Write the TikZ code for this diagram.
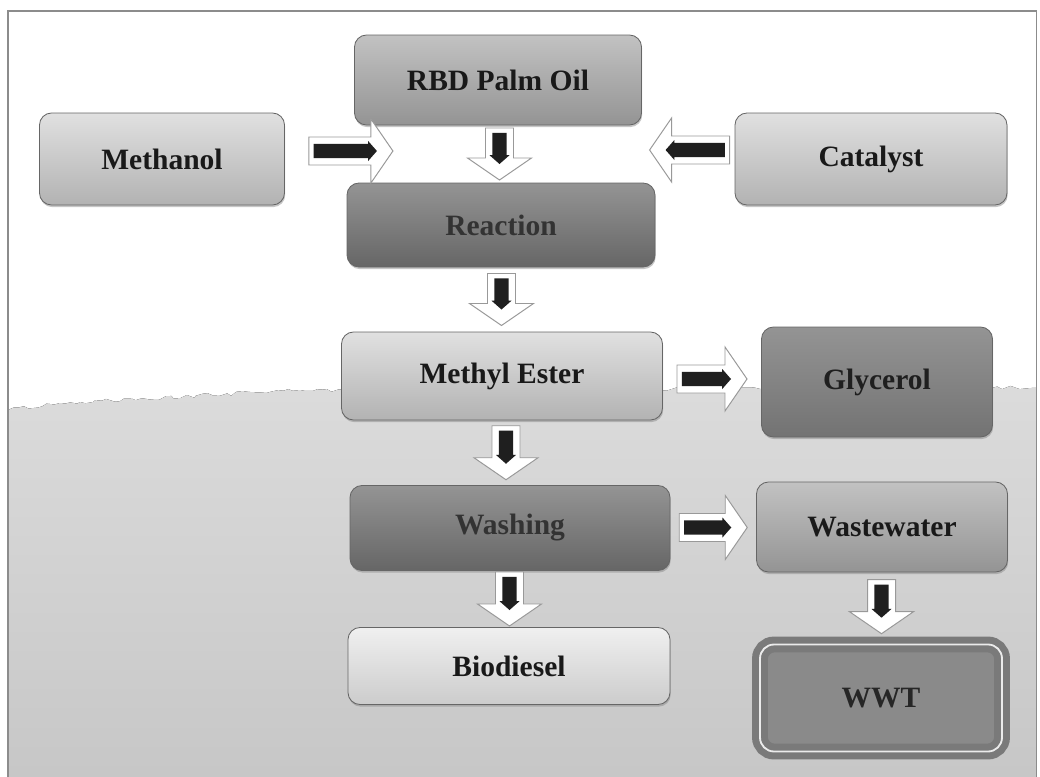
\documentclass[tikz,border=0pt]{standalone}
\usepackage{fontspec}
\setmainfont{Liberation Serif}
\usetikzlibrary{calc, shadows, decorations.pathmorphing}

% block arrow between two process boxes, drawn pointing right
\tikzset{
    pics/flowarrow/.style={code={
        \filldraw[draw=black!40, fill=white, line width=0.7pt]
            ({-#1/2},-0.35) -- ({#1/2-0.55},-0.35) -- ({#1/2-0.55},-0.8) -- ({#1/2},0)
            -- ({#1/2-0.55},0.8) -- ({#1/2-0.55},0.35) -- ({-#1/2},0.35) -- cycle;
        \fill[black!88]
            ({-#1/2+0.12},-0.18) -- ({#1/2-0.62},-0.18) -- ({#1/2-0.62},-0.25) -- ({#1/2-0.4},0)
            -- ({#1/2-0.62},0.25) -- ({#1/2-0.62},0.18) -- ({-#1/2+0.12},0.18) -- cycle;
    }}
}

\begin{document}
\begin{tikzpicture}[
    box/.style={rectangle, rounded corners=0.3cm, draw=black!60, line width=0.6pt, align=center, text=black!90, font=\fontsize{21}{24}\selectfont\bfseries, drop shadow={opacity=0.45, shadow xshift=0.5pt, shadow yshift=-1.5pt}},
    palebox/.style={box, top color=black!6, bottom color=black!20},
    lightbox/.style={box, top color=black!12, bottom color=black!30},
    midbox/.style={box, top color=black!24, bottom color=black!42},
    darkbox/.style={box, top color=black!42, bottom color=black!60, text=black!80},
    wwtbox/.style={rectangle, rounded corners=0.35cm, fill=black!46, draw=black!52, line width=5pt, double=white!92!black, double distance=1.3pt, text=black!85, font=\fontsize{21}{24}\selectfont\bfseries}
]
    \useasboundingbox (0,0) rectangle (26,-19.425);

    % Background and frame
    \fill[top color=black!14, bottom color=black!22, decoration={random steps, segment length=4pt, amplitude=1.5pt}]
        (0.2,-19.425) -- (0.2,-10.25) decorate {-- (2,-10.05) -- (7.5,-9.75) -- (25.92,-9.7)} -- (25.92,-19.425) -- cycle;
    \draw[black!45, line width=0.8pt] (0.2,-19.425) -- (0.2,-0.275) -- (25.92,-0.275) -- (25.92,-19.425);

    % Feed streams
    \node[midbox, minimum width=7.175cm, minimum height=2.25cm] (RBD) at (12.45,-2.0) {RBD Palm Oil};
    \node[lightbox, minimum width=6.125cm, minimum height=2.3cm] (METH) at (4.05,-3.975) {Methanol};
    \node[lightbox, minimum width=6.8cm, minimum height=2.3cm] (CAT) at (21.775,-3.975) {Catalyst};

    % Process steps
    \node[darkbox, minimum width=7.7cm, minimum height=2.1cm] (REACT) at (12.525,-5.625) {Reaction};
    \node[lightbox, minimum width=8.025cm, minimum height=2.2cm] (MEST) at (12.55,-9.4) {Methyl Ester};
    \node[darkbox, minimum width=8.0cm, minimum height=2.125cm] (WASH) at (12.75,-13.2) {Washing};
    \node[palebox, minimum width=8.05cm, minimum height=1.925cm] (BIO) at (12.725,-16.65) {Biodiesel};

    % By-products
    \node[darkbox, text=black!88, top color=black!42, bottom color=black!55, minimum width=5.775cm, minimum height=2.75cm] (GLYC) at (21.925,-9.55) {Glycerol};
    \node[midbox, minimum width=6.275cm, minimum height=2.25cm] (WASTE) at (22.05,-13.175) {Wastewater};
    \node[wwtbox, minimum width=6.05cm, minimum height=2.675cm] (WWT) at (22.025,-17.45) {WWT};

    % Flow arrows
    \pic at ($(METH.east)+(1.65,0.2)$) {flowarrow=2.1};
    \pic[rotate=180] at ($(CAT.west)+(-1.125,0.225)$) {flowarrow=2.0};
    \pic[rotate=-90] at ($(RBD.south)!0.5!(REACT.north)$) {flowarrow=1.3};
    \pic[rotate=-90] at ($(REACT.south)!0.5!(MEST.north)$) {flowarrow=1.3};
    \pic[rotate=-90] at ($(MEST.south)!0.5!(WASH.north)$) {flowarrow=1.35};
    \pic[rotate=-90] at ($(WASH.south)!0.5!(BIO.north)$) {flowarrow=1.35};
    \pic at ($(MEST.east)!0.5!(GLYC.west)$) {flowarrow=1.75};
    \pic at ($(WASH.east)!0.5!(WASTE.west)$) {flowarrow=1.7};
    \pic[rotate=-90] at ($(WASTE.south)!0.5!(WWT.north)$) {flowarrow=1.35};
\end{tikzpicture}
\end{document}
